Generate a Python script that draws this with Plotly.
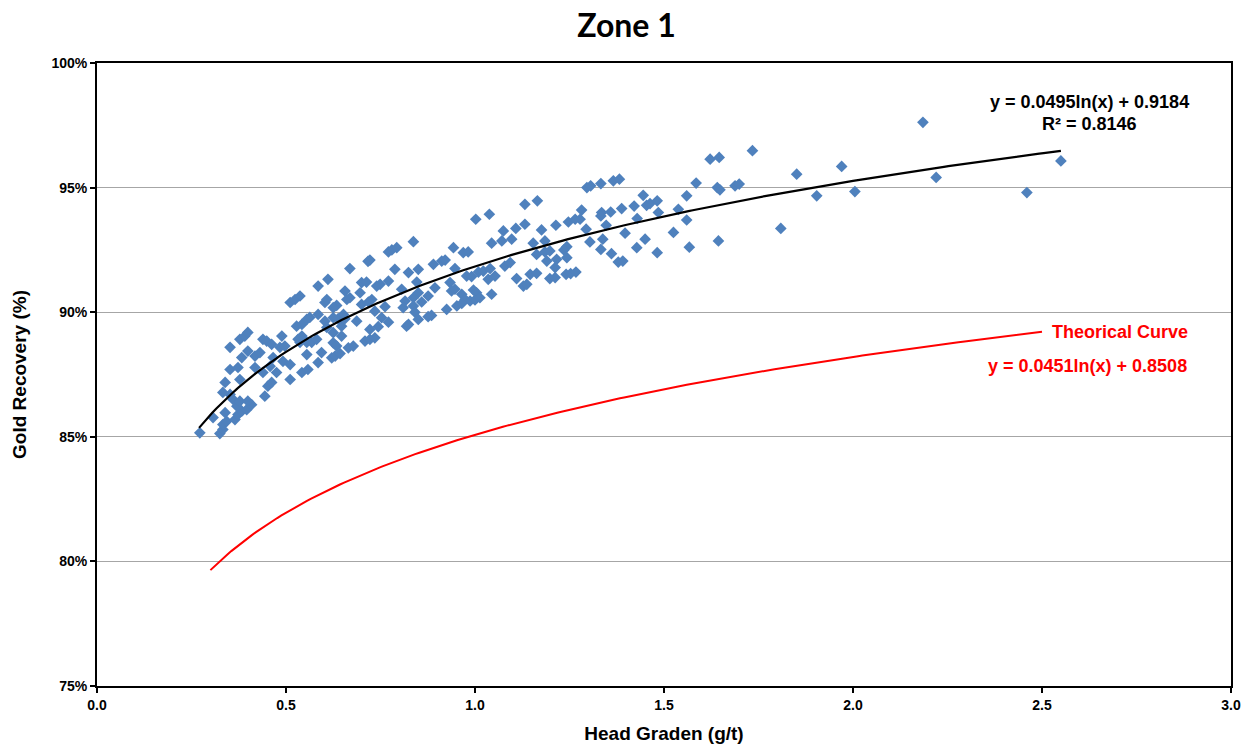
import numpy as np
import plotly.graph_objects as go

# Sample measurements: head grade (g/t) and gold recovery (%)
head_grade = [
    0.272, 0.325, 0.333, 0.333, 0.307, 0.343, 0.339, 0.365, 0.373, 0.383,
    0.396, 0.409, 0.370, 0.360, 0.378, 0.352, 0.333, 0.399, 0.444, 0.452,
    0.462, 0.339, 0.378, 0.352, 0.373, 0.383, 0.352, 0.378, 0.391, 0.399,
    0.399, 0.418, 0.431, 0.439, 0.449, 0.462, 0.418, 0.439, 0.458, 0.475,
    0.466, 0.489, 0.484, 0.497, 0.492, 0.511, 0.511, 0.532, 0.542, 0.528,
    0.542, 0.555, 0.563, 0.585, 0.511, 0.524, 0.537, 0.537, 0.555, 0.568,
    0.581, 0.555, 0.542, 0.558, 0.585, 0.594, 0.603, 0.608, 0.611, 0.585,
    0.603, 0.608,
    0.837, 0.771, 0.780, 0.793, 0.722, 0.717, 0.669, 0.700, 0.713, 0.696,
    0.656, 0.749, 0.740, 0.771, 0.788, 0.824, 0.850, 0.846, 0.806, 0.850,
    0.837, 0.859, 0.876, 0.634, 0.625, 0.661, 0.669, 0.700, 0.727, 0.718,
    0.735, 0.762, 0.815, 0.837, 0.841, 0.810, 0.850, 0.876, 0.625, 0.638,
    0.647, 0.652, 0.656, 0.687, 0.753, 0.771, 0.744, 0.722, 0.819, 0.824,
    0.625, 0.647, 0.709, 0.722, 0.735, 0.625, 0.634, 0.678, 0.665, 0.621,
    0.630, 0.643,
    1.132, 1.165, 1.002, 1.038, 1.075, 1.108, 1.132, 1.176, 1.214, 0.943,
    0.969, 0.982, 1.044, 1.071, 1.097, 1.154, 1.185, 0.890, 0.912, 0.921,
    0.947, 0.978, 0.991, 1.009, 1.022, 1.040, 1.053, 1.035, 1.079, 1.093,
    1.163, 1.185, 1.198, 1.190, 1.216, 1.212, 0.894, 0.934, 0.938, 0.947,
    0.965, 0.996, 1.004, 0.974, 0.987, 1.000, 1.013, 1.044, 0.952, 0.965,
    0.925, 0.885, 1.110, 1.128, 1.137, 1.146, 1.163, 1.198, 1.212,
    1.296, 1.306, 1.333, 1.366, 1.382, 1.282, 1.247, 1.265, 1.278, 1.335,
    1.333, 1.359, 1.388, 1.421, 1.445, 1.454, 1.463, 1.482, 1.485, 1.538,
    1.560, 1.560, 1.429, 1.294, 1.347, 1.397, 1.304, 1.338, 1.450, 1.525,
    1.243, 1.235, 1.243, 1.333, 1.361, 1.379, 1.391, 1.428, 1.482, 1.567,
    1.241, 1.253, 1.267,
    1.734, 1.622, 1.646, 1.585, 1.641, 1.648, 1.688, 1.699, 1.851, 1.970,
    1.904, 1.809, 1.644,
    2.005, 2.185, 2.220, 2.460, 2.550,
]
recovery = [
    85.16, 85.13, 85.29, 85.49, 85.77, 85.62, 85.97, 85.69, 85.89, 86.03,
    86.09, 86.29, 86.23, 86.50, 86.43, 86.70, 86.78, 86.43, 86.63, 87.03,
    87.18, 87.18, 87.30, 87.70, 87.78, 88.18, 88.59, 88.91, 89.04, 89.19,
    88.44, 88.24, 88.38, 88.91, 88.84, 88.71, 87.78, 87.58, 87.83, 87.58,
    88.18, 89.04, 88.59, 88.64, 88.03, 87.90, 87.30, 88.91, 89.04, 89.44,
    89.51, 89.71, 89.79, 89.91, 90.39, 90.51, 90.65, 88.79, 88.79, 88.79,
    88.91, 88.30, 87.58, 87.70, 87.98, 88.38, 90.39, 90.51, 91.32, 91.05,
    89.64, 89.39,
    92.83, 92.42, 92.50, 92.59, 92.09, 92.04, 91.75, 91.19, 91.21, 90.78,
    90.85, 91.12, 91.05, 91.25, 91.72, 91.59, 91.72, 91.21, 90.92, 90.78,
    90.58, 90.41, 90.65, 90.27, 90.18, 90.51, 90.58, 90.31, 90.51, 90.41,
    90.04, 90.22, 90.45, 90.25, 90.00, 90.18, 89.71, 89.82, 89.78, 89.74,
    89.44, 89.91, 89.74, 89.64, 89.78, 89.60, 89.42, 89.31, 89.44, 89.51,
    89.18, 89.04, 88.84, 88.91, 88.97, 88.77, 88.64, 88.64, 88.57, 88.17,
    88.24, 88.34,
    94.33, 94.47, 93.73, 93.93, 93.26, 93.36, 93.53, 93.30, 93.49, 92.59,
    92.39, 92.42, 92.77, 92.86, 92.93, 92.77, 92.86, 91.92, 92.05, 92.09,
    91.75, 91.45, 91.43, 91.61, 91.65, 91.75, 91.45, 91.32, 91.85, 91.99,
    92.32, 92.42, 92.46, 92.05, 92.12, 91.79, 90.98, 91.19, 90.85, 90.92,
    90.72, 90.89, 90.78, 90.51, 90.45, 90.49, 90.58, 90.72, 90.25, 90.35,
    90.11, 89.87, 91.35, 91.05, 91.12, 91.52, 91.56, 91.35, 91.39,
    95.00, 95.07, 95.16, 95.27, 95.34, 94.10, 93.62, 93.73, 93.73, 94.00,
    93.86, 94.02, 94.16, 94.26, 94.69, 94.29, 94.36, 94.47, 94.00, 94.13,
    94.67, 93.70, 93.76, 93.33, 93.49, 93.17, 92.82, 92.93, 92.93, 93.20,
    92.63, 92.50, 92.19, 92.52, 92.35, 92.01, 92.05, 92.59, 92.39, 92.61,
    91.52, 91.55, 91.61,
    96.48, 96.14, 96.21, 95.18, 95.00, 94.91, 95.07, 95.14, 95.54, 95.85,
    94.67, 93.36, 92.86,
    94.84, 97.62, 95.41, 94.80, 96.07,
]

# Logarithmic fits: recovery = a*ln(x) + b (as fractions)
fit_a, fit_b = 0.0495, 0.9184
fit_r2 = 0.8146
fit_range = (0.27, 2.55)
theory_a, theory_b = 0.0451, 0.8508
theory_range = (0.30, 2.50)

x_fit = np.linspace(fit_range[0], fit_range[1], 200)
y_fit = (fit_a * np.log(x_fit) + fit_b) * 100
x_th = np.linspace(theory_range[0], theory_range[1], 200)
y_th = (theory_a * np.log(x_th) + theory_b) * 100

BLUE = "#4F81BD"
RED = "#FF0000"
FONT = "Liberation Sans, Arial, sans-serif"

fig = go.Figure()
fig.add_trace(go.Scatter(
    x=head_grade, y=recovery, mode="markers",
    marker=dict(symbol="diamond", size=9, color=BLUE, line=dict(width=0)),
    hoverinfo="x+y", showlegend=False,
))
fig.add_trace(go.Scatter(
    x=x_fit, y=y_fit, mode="lines",
    line=dict(color="black", width=2.2), showlegend=False,
))
fig.add_trace(go.Scatter(
    x=x_th, y=y_th, mode="lines",
    line=dict(color=RED, width=2), showlegend=False,
))

# Trendline equation and R² label
fig.add_annotation(
    x=2.625, y=98.45, xref="x", yref="y",
    text=f"y = {fit_a}ln(x) + {fit_b}",
    showarrow=False, xanchor="center", yanchor="middle",
    font=dict(family=FONT, size=18, color="black", weight="bold"),
)
fig.add_annotation(
    x=2.625, y=97.55, xref="x", yref="y",
    text=f"R² = {fit_r2}",
    showarrow=False, xanchor="center", yanchor="middle",
    font=dict(family=FONT, size=18, color="black", weight="bold"),
)
# Theoretical curve label and equation
fig.add_annotation(
    x=theory_range[1] + 0.02, y=(theory_a * np.log(theory_range[1]) + theory_b) * 100,
    xref="x", yref="y", text="Theorical Curve",
    showarrow=False, xanchor="left", yanchor="middle",
    font=dict(family=FONT, size=18, color=RED, weight="bold"),
)
fig.add_annotation(
    x=2.62, y=87.85, xref="x", yref="y",
    text=f"y = {theory_a}ln(x) + {theory_b}",
    showarrow=False, xanchor="center", yanchor="middle",
    font=dict(family=FONT, size=18, color=RED, weight="bold"),
)

fig.update_layout(
    width=1253, height=747,
    margin=dict(l=97, r=22, t=63, b=61),
    paper_bgcolor="white", plot_bgcolor="white",
    title=dict(
        text="<b>Zone 1</b>", x=0.5, xanchor="center", y=0.965, yanchor="middle",
        font=dict(family="Lato, Calibri, sans-serif", size=32, color="black"),
    ),
    font=dict(family=FONT, color="black"),
)
fig.update_xaxes(
    range=[0, 3.0], dtick=0.5, tickformat=".1f", automargin=False,
    showline=True, linecolor="black", linewidth=2, mirror=True,
    ticks="outside", ticklen=5, tickwidth=1.5, tickcolor="black",
    showgrid=False, zeroline=False,
    tickfont=dict(family=FONT, size=14, color="black", weight="bold"),
    title=dict(text="<b>Head Graden (g/t)</b>", standoff=15,
               font=dict(family=FONT, size=19, color="black")),
)
fig.update_yaxes(
    range=[75, 100], dtick=5, ticksuffix="%", automargin=False,
    showline=True, linecolor="black", linewidth=2, mirror=True,
    ticks="outside", ticklen=5, tickwidth=1.5, tickcolor="black",
    showgrid=True, gridcolor="#A6A6A6", gridwidth=1, zeroline=False,
    tickfont=dict(family=FONT, size=14, color="black", weight="bold"),
    title=dict(text="<b>Gold Recovery (%)</b>", standoff=20,
               font=dict(family=FONT, size=19, color="black")),
)

fig.write_html("out.html")
